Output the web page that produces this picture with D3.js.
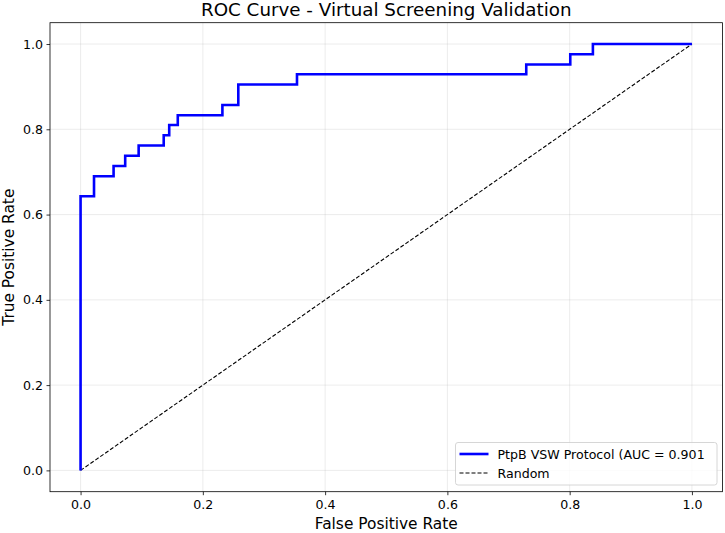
<!DOCTYPE html>
<html>
<head>
<meta charset="utf-8">
<script src="https://d3js.org/d3.v7.min.js"></script>
<style>
  body { margin: 0; background: #fff; }
  text { font-family: "DejaVu Sans", sans-serif; fill: #000; }
</style>
</head>
<body>
<div id="chart"></div>
<script>
// ROC points (corners of the step curve)
var fpr = [0, 0, 0.022, 0.022, 0.054, 0.054, 0.073, 0.073, 0.095, 0.095, 0.136, 0.136, 0.145, 0.145,
           0.159, 0.159, 0.232, 0.232, 0.258, 0.258, 0.354, 0.354, 0.729, 0.729, 0.801, 0.801, 0.838, 0.838, 1.0];
var tpr = [0, 0.643, 0.643, 0.690, 0.690, 0.714, 0.714, 0.738, 0.738, 0.762, 0.762, 0.786, 0.786, 0.810,
           0.810, 0.833, 0.833, 0.857, 0.857, 0.905, 0.905, 0.929, 0.929, 0.952, 0.952, 0.976, 0.976, 1.0, 1.0];
var randomX = [0, 1];
var randomY = [0, 1];
var ticks = [0, 0.2, 0.4, 0.6, 0.8, 1.0];
var rocLabel = "PtpB VSW Protocol (AUC = 0.901";
var randomLabel = "Random";

var W = 725, H = 533;
var m = { left: 50, right: 2.5, top: 22.7, bottom: 41.3 };

var svg = d3.select("#chart").append("svg")
    .attr("width", W).attr("height", H);

var x = d3.scaleLinear().domain([-0.05, 1.05]).range([m.left, W - m.right]);
var y = d3.scaleLinear().domain([-0.05, 1.05]).range([H - m.bottom, m.top]);

// grid
var grid = svg.append("g");
grid.selectAll(".gx").data(ticks).enter().append("line")
    .attr("x1", d => x(d)).attr("x2", d => x(d))
    .attr("y1", m.top).attr("y2", H - m.bottom)
    .attr("stroke", "#b0b0b0").attr("stroke-opacity", 0.3).attr("stroke-width", 0.8);
grid.selectAll(".gy").data(ticks).enter().append("line")
    .attr("y1", d => y(d)).attr("y2", d => y(d))
    .attr("x1", m.left).attr("x2", W - m.right)
    .attr("stroke", "#b0b0b0").attr("stroke-opacity", 0.3).attr("stroke-width", 0.8);

// random line
svg.append("path")
    .datum(d3.range(randomX.length))
    .attr("d", d3.line().x(i => x(randomX[i])).y(i => y(randomY[i])))
    .attr("fill", "none").attr("stroke", "#000").attr("stroke-width", 1.1)
    .attr("stroke-dasharray", "4,2");

// ROC curve
svg.append("path")
    .datum(d3.range(fpr.length))
    .attr("d", d3.line().x(i => x(fpr[i])).y(i => y(tpr[i])))
    .attr("fill", "none").attr("stroke", "#0000ff").attr("stroke-width", 2.6)
    .attr("stroke-linejoin", "miter");

// axes
var xAxis = svg.append("g")
    .attr("transform", "translate(0," + (H - m.bottom) + ")")
    .call(d3.axisBottom(x).tickValues(ticks).tickFormat(d3.format(".1f")).tickSize(3.5).tickPadding(4.5));
var yAxis = svg.append("g")
    .attr("transform", "translate(" + m.left + ",0)")
    .call(d3.axisLeft(y).tickValues(ticks).tickFormat(d3.format(".1f")).tickSize(3.5).tickPadding(3.5));
[xAxis, yAxis].forEach(function (g) {
    g.select(".domain").remove();
    g.selectAll("line").attr("stroke", "#000").attr("stroke-width", 0.8);
    g.selectAll("text").style("font-size", "12.6px").style("font-family", "DejaVu Sans").attr("fill", "#000");
});

// frame
svg.append("rect")
    .attr("x", m.left).attr("y", m.top)
    .attr("width", W - m.left - m.right).attr("height", H - m.top - m.bottom)
    .attr("fill", "none").attr("stroke", "#000").attr("stroke-width", 0.8);

// title and labels
svg.append("text").attr("x", (m.left + W - m.right) / 2).attr("y", 15.5)
    .attr("text-anchor", "middle").style("font-size", "18.3px")
    .text("ROC Curve - Virtual Screening Validation");
svg.append("text").attr("x", (m.left + W - m.right) / 2).attr("y", 528.5)
    .attr("text-anchor", "middle").style("font-size", "15.4px")
    .text("False Positive Rate");
svg.append("text")
    .attr("transform", "translate(13.5," + ((m.top + H - m.bottom) / 2) + ") rotate(-90)")
    .attr("text-anchor", "middle").style("font-size", "15.4px")
    .text("True Positive Rate");

// legend
var lg = svg.append("g").attr("transform", "translate(455.5,442.5)");
lg.append("rect").attr("width", 261.5).attr("height", 42.5).attr("rx", 2.5)
    .attr("fill", "#fff").attr("fill-opacity", 0.8)
    .attr("stroke", "#ccc").attr("stroke-width", 0.8);
lg.append("line").attr("x1", 4).attr("x2", 33).attr("y1", 11.5).attr("y2", 11.5)
    .attr("stroke", "#0000ff").attr("stroke-width", 2.6);
lg.append("line").attr("x1", 4).attr("x2", 33).attr("y1", 30.5).attr("y2", 30.5)
    .attr("stroke", "#000").attr("stroke-width", 1.1).attr("stroke-dasharray", "4,2");
lg.append("text").attr("x", 42).attr("y", 16).style("font-size", "12.6px").text(rocLabel);
lg.append("text").attr("x", 42).attr("y", 35).style("font-size", "12.6px").text(randomLabel);
</script>
</body>
</html>
